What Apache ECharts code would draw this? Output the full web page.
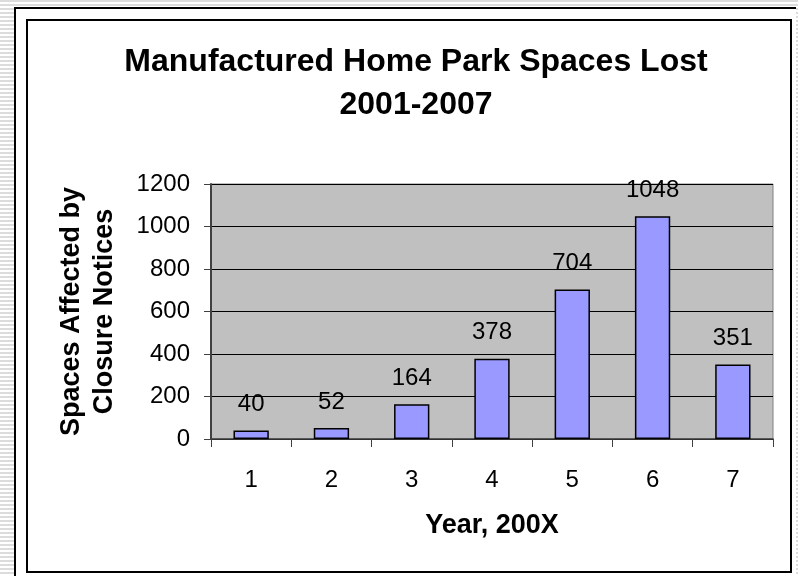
<!DOCTYPE html>
<html>
<head>
<meta charset="utf-8">
<script src="https://cdn.jsdelivr.net/npm/echarts@6/dist/echarts.min.js"></script>
<style>
html,body{margin:0;padding:0;width:798px;height:576px;overflow:hidden;
background:repeating-linear-gradient(to bottom,#dcdcdc 0px,#dcdcdc 2px,#ffffff 2px,#ffffff 4px);}
#outer{position:absolute;left:14px;top:7px;width:780px;height:570px;background:#fff;border-left:2px solid #000;border-top:2px solid #000;}
#inner{position:absolute;left:26px;top:19px;width:762px;height:550px;background:#fff;border:2px solid #000;}
#chart{position:absolute;left:0;top:0;width:798px;height:576px;}
</style>
</head>
<body>
<div id="outer"></div>
<div id="inner"></div>
<div id="chart"></div>
<script>
const categories = ['1','2','3','4','5','6','7'];
const values = [40, 52, 164, 378, 704, 1048, 351];
const yTicks = [0, 200, 400, 600, 800, 1000, 1200];
const titleLines = ['Manufactured Home Park Spaces Lost', '2001-2007'];
const xName = 'Year, 200X';
const yName = 'Spaces Affected by\nClosure Notices';

const font = 'Liberation Sans, Arial, sans-serif';
const chart = echarts.init(document.getElementById('chart'), null, {renderer:'canvas'});
chart.setOption({
  animation:false,
  backgroundColor:'transparent',
  title:{
    text: titleLines.join('\n'),
    left: 411, top: 36, textAlign:'center',
    textStyle:{fontFamily:font, fontWeight:'bold', fontSize:32, lineHeight:43, color:'#000'}
  },
  grid:{left:211, right:25, top:184, bottom:137, show:true, backgroundColor:'#c0c0c0', borderColor:'#808080', borderWidth:1},
  xAxis:{
    type:'category', data:categories,
    name:xName, nameLocation:'middle', nameGap:73,
    nameTextStyle:{fontFamily:font, fontWeight:'bold', fontSize:27, color:'#000'},
    axisLine:{lineStyle:{color:'#404040', width:1.5}},
    axisTick:{show:true, alignWithLabel:false, length:8, lineStyle:{color:'#404040'}},
    axisLabel:{fontFamily:font, fontSize:24, color:'#000', margin:29}
  },
  yAxis:{
    type:'value', min:0, max:1200, interval:200,
    name:yName, nameLocation:'middle', nameGap:90, nameRotate:90,
    nameTextStyle:{fontFamily:font, fontWeight:'bold', fontSize:27, lineHeight:33, color:'#000'},
    axisLine:{show:true, lineStyle:{color:'#404040', width:2}},
    axisTick:{show:true, length:7, lineStyle:{color:'#404040'}},
    axisLabel:{fontFamily:font, fontSize:24, color:'#000', margin:21,
      formatter:function(v){return yTicks.indexOf(v)>=0 ? String(v) : '';}},
    splitLine:{show:true, lineStyle:{color:'#000', width:1}}
  },
  series:[{
    type:'bar', data:values, barWidth:'44%',
    itemStyle:{color:'#9999ff', borderColor:'#000', borderWidth:1.5},
    label:{show:true, position:'top', distance:14, fontFamily:font, fontSize:24, color:'#000'}
  }]
});
</script>
</body>
</html>
